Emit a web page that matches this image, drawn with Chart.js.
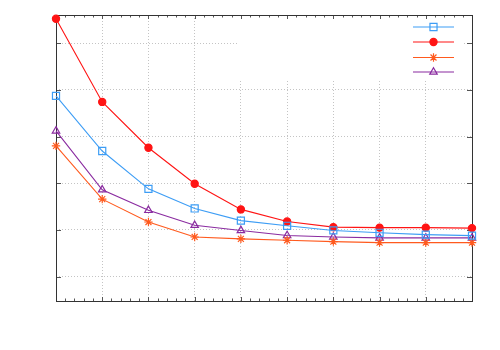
<!DOCTYPE html>
<html>
<head>
<meta charset="utf-8">
<script src="https://cdn.jsdelivr.net/npm/chart.js@4.4.1/dist/chart.umd.min.js"></script>
<style>
	html, body { margin: 0; padding: 0; background: #fff; }
	#wrap { width: 500px; height: 350px; }
</style>
</head>
<body>
<div id="wrap"><canvas id="lineChart" width="500" height="350"></canvas></div>
<script>
// values
var xLabels = ['0', '1', '2', '3', '4', '5', '6', '7', '8', '9'];
var yTicks = [1, 2, 3, 4, 5, 6];
var yMin = 0.48;
var yMax = 6.6;

var blueData   = [4.87, 3.69, 2.88, 2.46, 2.20, 2.09, 1.99, 1.94, 1.90, 1.88];
var redData    = [6.52, 4.74, 3.76, 2.99, 2.44, 2.18, 2.06, 2.05, 2.05, 2.04];
var orangeData = [3.80, 2.66, 2.17, 1.85, 1.81, 1.78, 1.75, 1.73, 1.73, 1.73];
var purpleData = [4.12, 2.86, 2.42, 2.10, 1.99, 1.88, 1.85, 1.83, 1.83, 1.83];

var COLORS = {
	blue: '#3d9df5',
	red: '#ff1414',
	orange: '#ff5a1e',
	purple: '#8a2ba0'
};

function makeSet(data, color, style, radius, fill) {
	return {
		data: data,
		borderColor: color,
		backgroundColor: fill ? color : 'rgba(255,255,255,0)',
		pointBorderColor: color,
		pointBackgroundColor: fill ? color : 'rgba(255,255,255,0)',
		pointStyle: style,
		pointRadius: radius,
		pointBorderWidth: 1.2,
		borderWidth: 1.1,
		tension: 0,
		fill: false,
		clip: false
	};
}

var datasets = [
	makeSet(blueData, COLORS.blue, 'rect', 5, false),
	makeSet(redData, COLORS.red, 'circle', 3.6, true),
	makeSet(orangeData, COLORS.orange, 'star', 4.2, false),
	makeSet(purpleData, COLORS.purple, 'triangle', 4.3, false)
];

// frame, inward ticks and the opaque key box
var framePlugin = {
	id: 'frame',
	beforeDatasetsDraw: function(chart) {
		var ctx = chart.ctx;
		var a = chart.chartArea;
		var xs = chart.scales.x;
		var ys = chart.scales.y;
		ctx.save();

		// key box hides the grid behind it
		ctx.fillStyle = '#ffffff';
		ctx.fillRect(239, a.top, 224, 65);

		ctx.strokeStyle = '#555';
		ctx.lineWidth = 1;
		ctx.beginPath();
		// x ticks, major + minor, top and bottom
		for (var i = 0; i < xLabels.length; i++) {
			var px = Math.round(xs.getPixelForValue(i)) + 0.5;
			ctx.moveTo(px, a.bottom); ctx.lineTo(px, a.bottom - 4);
			ctx.moveTo(px, a.top); ctx.lineTo(px, a.top + 4);
			if (i < xLabels.length - 1) {
				for (var m = 1; m < 5; m++) {
					var mx = Math.round(xs.getPixelForValue(i + m / 5)) + 0.5;
					ctx.moveTo(mx, a.bottom); ctx.lineTo(mx, a.bottom - 2.5);
					ctx.moveTo(mx, a.top); ctx.lineTo(mx, a.top + 2.5);
				}
			}
		}
		// y ticks, left and right
		yTicks.forEach(function(v) {
			var py = Math.round(ys.getPixelForValue(v)) + 0.5;
			ctx.moveTo(a.left, py); ctx.lineTo(a.left + 5, py);
			ctx.moveTo(a.right, py); ctx.lineTo(a.right - 5, py);
		});
		ctx.stroke();

		ctx.strokeStyle = '#333';
		ctx.strokeRect(Math.round(a.left) + 0.5, Math.round(a.top) + 0.5,
			Math.round(a.right - a.left), Math.round(a.bottom - a.top));

		// key samples, no text
		var rowY = [27, 42, 57.5, 72];
		chart.data.datasets.forEach(function(ds, idx) {
			var y = rowY[idx];
			ctx.strokeStyle = ds.borderColor;
			ctx.lineWidth = 1.2;
			ctx.beginPath();
			ctx.moveTo(413, y);
			ctx.lineTo(454, y);
			ctx.stroke();
			ctx.fillStyle = ds.pointBackgroundColor;
			ctx.strokeStyle = ds.pointBorderColor;
			ctx.lineWidth = 1.2;
			Chart.helpers.drawPoint(ctx, { pointStyle: ds.pointStyle, radius: ds.pointRadius, borderWidth: 1.2, rotation: 0 }, 433.5, y);
		});
		ctx.restore();
	}
};

var config = {
	type: 'line',
	data: {
		labels: xLabels,
		datasets: datasets
	},
	options: {
		responsive: false,
		animation: false,
		layout: {
			padding: { left: 56, top: 15, right: 28, bottom: 49 }
		},
		plugins: {
			legend: { display: false },
			tooltip: { enabled: false }
		},
		scales: {
			x: {
				type: 'category',
				offset: false,
				ticks: { display: false },
				border: { display: false, dash: [1, 2] },
				grid: {
					color: '#c4c4c4',
					lineWidth: 1,
					drawTicks: false
				}
			},
			y: {
				type: 'linear',
				min: yMin,
				max: yMax,
				afterBuildTicks: function(axis) {
					axis.ticks = yTicks.map(function(v) { return { value: v }; });
				},
				ticks: { display: false },
				border: { display: false, dash: [1, 2] },
				grid: {
					color: '#c4c4c4',
					lineWidth: 1,
					drawTicks: false
				}
			}
		}
	},
	plugins: [framePlugin]
};

var lineChart = new Chart(document.getElementById('lineChart'), config);
</script>
</body>
</html>
